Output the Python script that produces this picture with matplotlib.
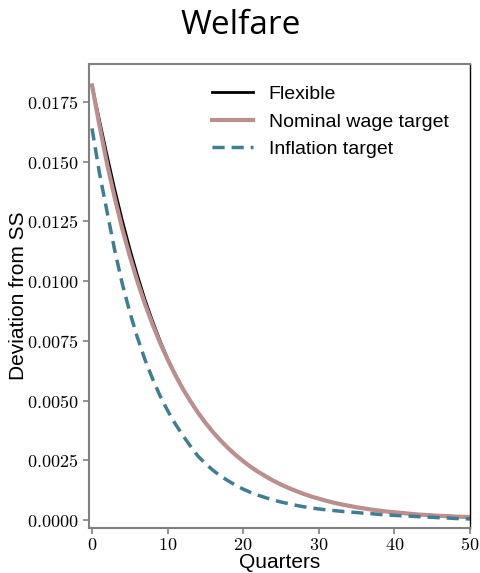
import numpy as np
import matplotlib
matplotlib.use("Agg")
import matplotlib.pyplot as plt
from matplotlib.ticker import FuncFormatter, MultipleLocator

plt.rcParams['mathtext.fontset'] = 'cm'

quarters = np.arange(0, 51)

flexible = [0.01820, 0.01672, 0.01526, 0.01386, 0.01256, 0.01136, 0.01026, 0.00924,
            0.00834, 0.00751, 0.00676, 0.00610, 0.00551, 0.00498, 0.00450, 0.00407,
            0.00368, 0.00333, 0.00301, 0.00272, 0.00246, 0.00222, 0.00201, 0.00182,
            0.00164, 0.00148, 0.00134, 0.00121, 0.00109, 0.00098, 0.00089, 0.00080,
            0.00072, 0.00065, 0.00059, 0.00053, 0.00048, 0.00043, 0.00039, 0.00035,
            0.00032, 0.00029, 0.00026, 0.00023, 0.00021, 0.00019, 0.00017, 0.00016,
            0.00014, 0.00013, 0.00012]

nominal_wage = [0.01820, 0.01650, 0.01490, 0.01350, 0.01220, 0.01105, 0.01000, 0.00905,
                0.00820, 0.00742, 0.00672, 0.00608, 0.00550, 0.00498, 0.00450, 0.00407,
                0.00368, 0.00333, 0.00301, 0.00272, 0.00246, 0.00222, 0.00201, 0.00182,
                0.00164, 0.00148, 0.00134, 0.00121, 0.00109, 0.00098, 0.00089, 0.00080,
                0.00072, 0.00065, 0.00059, 0.00053, 0.00048, 0.00043, 0.00039, 0.00035,
                0.00032, 0.00029, 0.00026, 0.00023, 0.00021, 0.00019, 0.00017, 0.00016,
                0.00014, 0.00013, 0.00012]

inflation = [0.01640, 0.01450, 0.01290, 0.01130, 0.00990, 0.00870, 0.00765, 0.00672,
             0.00592, 0.00520, 0.00458, 0.00403, 0.00355, 0.00310, 0.00268, 0.00236,
             0.00208, 0.00184, 0.00164, 0.00145, 0.00129, 0.00115, 0.00103, 0.00093,
             0.00083, 0.00075, 0.00068, 0.00061, 0.00055, 0.00050, 0.00046, 0.00042,
             0.00039, 0.00036, 0.00033, 0.00031, 0.00028, 0.00026, 0.00023, 0.00021,
             0.00019, 0.00017, 0.00016, 0.00014, 0.00012, 0.00011, 0.00009, 0.00008,
             0.00006, 0.00005, 0.00004]

fig = plt.figure(figsize=(4.81, 5.73), dpi=100)
ax = fig.add_axes([0.185, 0.0785, 0.792, 0.8095])

ax.plot(quarters, flexible, color='black', lw=2.0, label='Flexible')
ax.plot(quarters, nominal_wage, color='#bc8f8f', lw=3, label='Nominal wage target')
ax.plot(quarters, inflation, color='#3f7d91', lw=2.5, ls=(0, (3.5, 2)), label='Inflation target')

ax.set_xlim(-0.4, 50)
ax.set_ylim(-0.00034, 0.01909)
ax.xaxis.set_major_locator(MultipleLocator(10))
ax.yaxis.set_major_locator(MultipleLocator(0.0025))
ax.xaxis.set_major_formatter(FuncFormatter(lambda v, p: r'$%d$' % v))
ax.yaxis.set_major_formatter(FuncFormatter(lambda v, p: r'$%.4f$' % v))
ax.tick_params(labelsize=13, length=4, color='#808080', width=1.2)
ax.tick_params(axis='x', pad=2)

for side in ['left', 'bottom', 'top']:
    ax.spines[side].set_color('#808080')
    ax.spines[side].set_linewidth(1.5)
ax.spines['right'].set_color('black')
ax.spines['right'].set_linewidth(1.0)

ax.set_xlabel('Quarters', family='Liberation Sans', fontsize=15, labelpad=-1)
ax.set_ylabel('Deviation from SS', family='Liberation Sans', fontsize=15)
ax.yaxis.set_label_coords(-0.16, 0.5)

leg = ax.legend(loc='upper right', frameon=False, handlelength=2.1, handletextpad=0.8,
                prop={'family': 'Liberation Sans', 'size': 14},
                borderaxespad=0.7, labelspacing=0.5)

fig.suptitle('Welfare', family='Open Sans', fontsize=24, x=0.5, y=0.955, va='center')

fig.savefig('out.png', dpi=100)
